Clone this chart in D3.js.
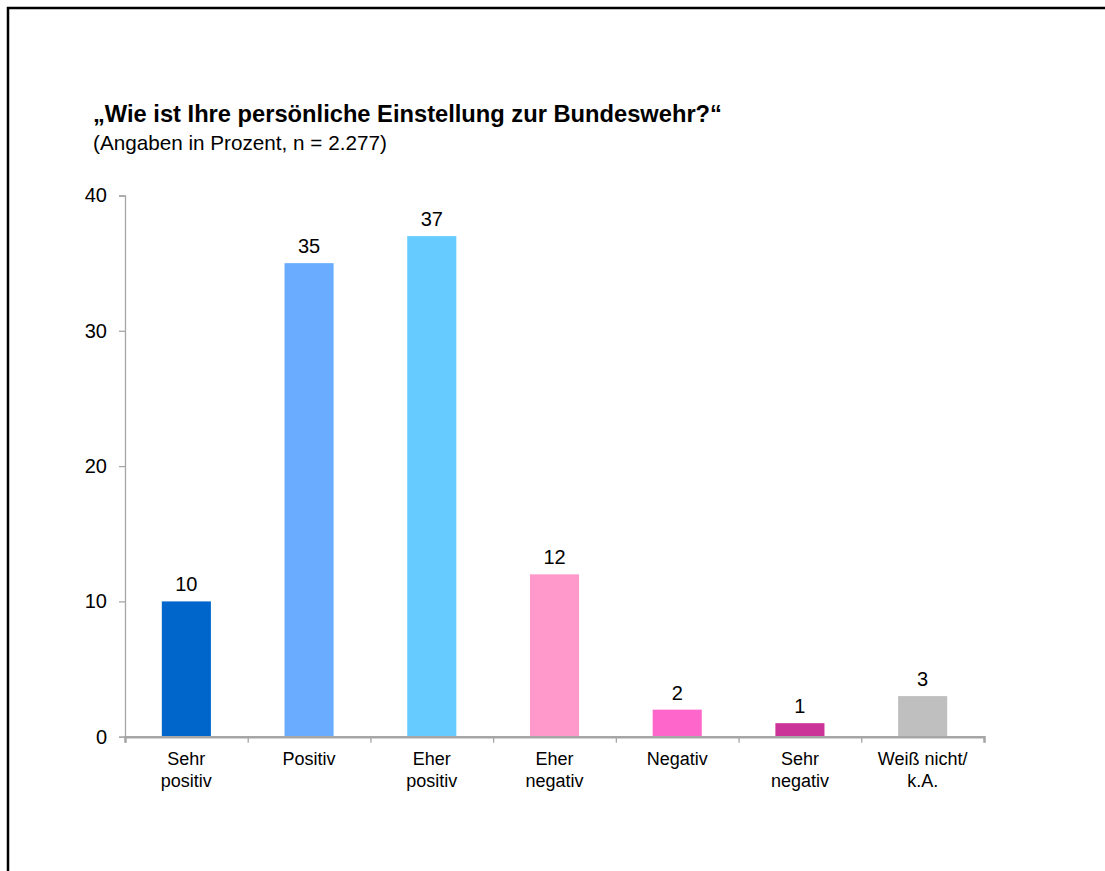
<!DOCTYPE html>
<html>
<head>
<meta charset="utf-8">
<script src="https://cdn.jsdelivr.net/npm/d3@7"></script>
<style>
  html, body { margin: 0; padding: 0; background: #fff; }
  svg { display: block; font-family: "Liberation Sans", Arial, sans-serif; }
</style>
</head>
<body>
<svg id="chart" width="1105" height="871"></svg>
<script>
const categories = [["Sehr", "positiv"], ["Positiv"], ["Eher", "positiv"], ["Eher", "negativ"], ["Negativ"], ["Sehr", "negativ"], ["Weiß nicht/", "k.A."]];
const values = [10, 35, 37, 12, 2, 1, 3];
const colors = ["#0066CC", "#6AACFF", "#66CCFF", "#FF99CC", "#FF66CC", "#CC3399", "#BFBFBF"];
const yTicks = [0, 10, 20, 30, 40];
const title = "„Wie ist Ihre persönliche Einstellung zur Bundeswehr?“";
const subtitle = "(Angaben in Prozent, n = 2.277)";

const svg = d3.select("#chart");

// frame
svg.append("rect").attr("x", 8).attr("y", 8).attr("width", 1200).attr("height", 1000)
  .attr("fill", "none").attr("stroke", "#000").attr("stroke-width", 2.5);

svg.append("text").attr("x", 93).attr("y", 122)
  .attr("font-size", 23.7).attr("font-weight", "bold").attr("fill", "#000").text(title);
svg.append("text").attr("x", 93).attr("y", 150)
  .attr("font-size", 20.7).attr("fill", "#000").text(subtitle);

const plotLeft = 125, plotRight = 984, plotTop = 195.5, plotBottom = 736.7;
const idx = d3.range(categories.length);
const x = d3.scaleBand().domain(idx).range([plotLeft, plotRight]).paddingInner(0.6).paddingOuter(0.3);
const y = d3.scaleLinear().domain([0, 40]).range([plotBottom, plotTop]);
const axisColor = "#A6A6A6";

// y axis
const yAxis = svg.append("g").attr("transform", `translate(${plotLeft},0)`)
  .call(d3.axisLeft(y).tickValues(yTicks).tickSize(6).tickPadding(12));
yAxis.select(".domain").attr("stroke", axisColor).attr("stroke-width", 1.3);
yAxis.selectAll(".tick line").attr("stroke", axisColor).attr("stroke-width", 1.3);
yAxis.selectAll(".tick text").attr("font-size", 20).attr("fill", "#000")
  .attr("font-family", "Liberation Sans, Arial, sans-serif");

// bars
svg.append("g").selectAll("rect").data(idx).join("rect")
  .attr("x", i => x(i)).attr("width", x.bandwidth())
  .attr("y", i => y(values[i])).attr("height", i => y(0) - y(values[i]))
  .attr("fill", i => colors[i]);

// value labels
svg.append("g").selectAll("text").data(idx).join("text")
  .attr("x", i => x(i) + x.bandwidth() / 2).attr("y", i => y(values[i]) - 10)
  .attr("text-anchor", "middle").attr("font-size", 20).attr("fill", "#000")
  .text(i => values[i]);

// x axis with ticks at category boundaries
const xb = d3.scaleLinear().domain([0, categories.length]).range([plotLeft, plotRight]);
const xAxis = svg.append("g").attr("transform", `translate(0,${plotBottom})`)
  .call(d3.axisBottom(xb).tickValues(d3.range(categories.length + 1)).tickSize(6).tickFormat(""));
xAxis.select(".domain").attr("stroke", axisColor).attr("stroke-width", 2.5);
xAxis.selectAll(".tick line").attr("stroke", axisColor).attr("stroke-width", 1.3);

// category labels
const lab = svg.append("g").selectAll("text").data(idx).join("text")
  .attr("x", i => x(i) + x.bandwidth() / 2).attr("y", plotBottom + 28)
  .attr("text-anchor", "middle").attr("font-size", 18).attr("fill", "#000");
lab.each(function(i) {
  const t = d3.select(this);
  categories[i].forEach((line, k) => {
    t.append("tspan").attr("x", x(i) + x.bandwidth() / 2).attr("dy", k === 0 ? 0 : 22).text(line);
  });
});
</script>
</body>
</html>
